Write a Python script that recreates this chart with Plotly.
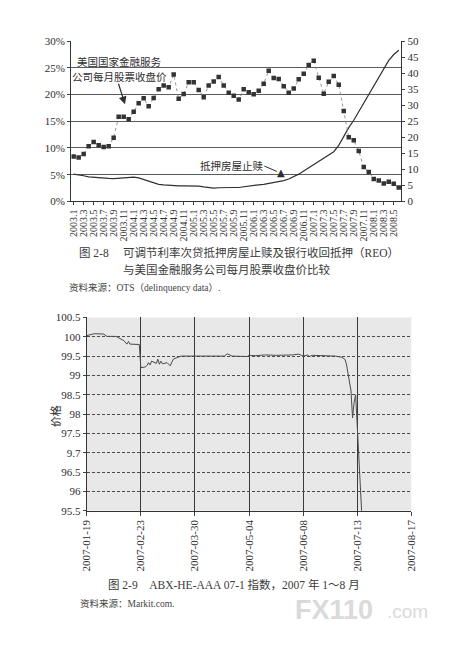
import plotly.graph_objects as go

# page is 465x650; the html body adds an 8px margin, so the figure itself is smaller
OFF = 8
W, H = 465 - OFF, 650 - 2 * OFF

# ---- chart 2-8 data (monthly, 2003.1 .. 2008.6) ----
months = [f"{y}.{m}" for y in range(2003, 2009) for m in range(1, 13)][:66]
month_ticks = months[::2]

# Countrywide monthly close (right axis, $)
cfc_close = [14.0, 13.7, 14.8, 17.2, 18.5, 17.5, 17.0, 17.2, 19.9, 26.4,
             26.4, 25.6, 28.0, 30.6, 32.2, 29.7, 32.3, 35.0, 36.2, 35.6,
             39.6, 32.0, 33.5, 37.2, 37.2, 34.8, 32.5, 36.2, 37.4, 38.8,
             36.2, 33.9, 33.0, 31.8, 35.0, 34.1, 33.4, 34.5, 36.7, 40.8,
             38.5, 38.2, 35.9, 33.9, 35.2, 38.1, 39.8, 42.6, 43.9, 38.6,
             33.6, 37.3, 39.1, 36.4, 28.2, 20.0, 19.1, 15.7, 10.7, 9.2,
             7.0, 6.5, 5.6, 6.1, 5.5, 4.3]

# ARM subprime foreclosure + REO rate (left axis, %)
foreclosure = [5.1, 5.0, 4.8, 4.6, 4.5, 4.4, 4.3, 4.3, 4.25, 4.3,
               4.35, 4.5, 4.55, 4.4, 4.1, 3.7, 3.4, 3.2, 3.1, 3.0,
               2.95, 2.9, 2.9, 2.9, 2.9, 2.85, 2.7, 2.6, 2.5, 2.55,
               2.6, 2.65, 2.6, 2.6, 2.75, 2.9, 3.0, 3.1, 3.2, 3.35,
               3.5, 3.7, 3.9, 4.2, 4.6, 5.1, 5.7, 6.3, 6.9, 7.5,
               8.0, 8.6, 9.3, 10.5, 12.2, 13.8, 15.2, 16.8, 18.5, 20.0,
               21.8, 23.4, 25.0, 26.4, 27.5, 28.3]

# ---- chart 2-9 data (ABX-HE-AAA 07-1) ----
abx_dates = ["2007-01-19", "2007-01-22", "2007-01-24", "2007-01-30", "2007-02-01",
             "2007-02-07", "2007-02-09", "2007-02-12", "2007-02-14", "2007-02-15",
             "2007-02-16", "2007-02-22", "2007-02-23", "2007-02-26", "2007-02-27",
             "2007-02-28", "2007-03-01", "2007-03-02", "2007-03-05", "2007-03-06",
             "2007-03-07", "2007-03-08", "2007-03-09", "2007-03-12", "2007-03-14",
             "2007-03-16", "2007-03-19", "2007-03-21", "2007-04-18", "2007-04-19",
             "2007-04-20", "2007-04-23", "2007-05-03", "2007-05-04", "2007-05-08",
             "2007-05-14", "2007-05-22", "2007-06-01", "2007-06-05", "2007-06-07",
             "2007-06-08", "2007-06-11", "2007-06-12", "2007-06-14", "2007-06-29",
             "2007-07-03", "2007-07-05", "2007-07-06", "2007-07-09", "2007-07-10",
             "2007-07-11", "2007-07-12", "2007-07-13", "2007-07-16", "2007-07-17"]
abx_price = [100.03, 100.07, 100.08, 100.07, 100.01,
             100.01, 99.96, 99.90, 99.81, 99.88,
             99.81, 99.80, 99.20, 99.22, 99.26,
             99.33, 99.27, 99.37, 99.31, 99.42,
             99.29, 99.37, 99.30, 99.33, 99.25,
             99.42, 99.47, 99.50, 99.50, 99.53,
             99.56, 99.50, 99.49, 99.52, 99.51,
             99.53, 99.52, 99.53, 99.55, 99.52,
             99.50, 99.53, 99.49, 99.52, 99.50,
             99.47, 99.42, 99.30, 98.60, 97.90,
             98.30, 98.50, 97.70, 95.40, 94.60]
abx_ticks = ["2007-01-19", "2007-02-23", "2007-03-30", "2007-05-04",
             "2007-06-08", "2007-07-13", "2007-08-17"]
price_ticks = [95.5, 96, 96.5, 97, 97.5, 98, 98.5, 99, 99.5, 100, 100.5]
price_labels = ["95.5", "96", "96.5", "9.7", "97.5", "98", "98.5", "99", "99.5", "100", "100.5"]


# page pixel -> paper fraction
def px(x):
    return (x - OFF) / W


def py(y):
    return 1 - (y - OFF) / H


SERIF = "Liberation Serif, Noto Sans CJK SC, serif"
INK = "#2e2e2e"

fig = go.Figure()

fig.add_trace(go.Scatter(x=months, y=foreclosure, mode="lines",
                         line=dict(color="#303030", width=1.2),
                         xaxis="x", yaxis="y"))
fig.add_trace(go.Scatter(x=months, y=cfc_close, mode="lines+markers",
                         line=dict(color="#777777", width=0.8, dash="dot"),
                         marker=dict(symbol="square", size=4.5, color="#333333"),
                         xaxis="x", yaxis="y2"))
fig.add_trace(go.Scatter(x=abx_dates, y=abx_price, mode="lines",
                         line=dict(color="#4a4a4a", width=1),
                         xaxis="x3", yaxis="y3"))

fig.update_layout(
    width=W, height=H,
    margin=dict(l=0, r=0, t=0, b=0),
    paper_bgcolor="white", plot_bgcolor="rgba(0,0,0,0)",
    showlegend=False,
    font=dict(family=SERIF, color=INK),
    xaxis=dict(domain=[px(66.7), px(405.7)], anchor="y", type="category",
               range=[-0.5, 65.5], tickmode="array", tickvals=month_ticks,
               tickangle=-90, tickfont=dict(size=10), ticks="outside", ticklen=3,
               tickcolor="#444", showline=True, linecolor="#333", showgrid=False),
    yaxis=dict(domain=[py(199), py(35.7)], anchor="x", range=[0, 30], dtick=5,
               ticksuffix="%", tickfont=dict(size=11), ticks="outside", ticklen=3,
               tickcolor="#444", showline=True, linecolor="#333",
               showgrid=True, gridcolor="#5c5c5c", gridwidth=1, zeroline=False),
    yaxis2=dict(overlaying="y", side="right", anchor="x", range=[0, 50], dtick=5,
                tickfont=dict(size=11), ticks="outside", ticklen=3, tickcolor="#444",
                showline=True, linecolor="#333", showgrid=False, zeroline=False),
    xaxis3=dict(domain=[px(82.7), px(416)], anchor="y3", type="date",
                range=["2007-01-19", "2007-08-17"], tickmode="array",
                tickvals=abx_ticks, ticktext=abx_ticks, tickangle=-90,
                tickfont=dict(size=11), ticks="outside", ticklen=4, tickcolor="#444",
                showline=True, linecolor="#333", showgrid=True,
                gridcolor="#3a3a3a", gridwidth=1, zeroline=False),
    yaxis3=dict(domain=[py(514.3), py(317.3)], anchor="x3", range=[95.5, 100.5],
                tickmode="array", tickvals=price_ticks, ticktext=price_labels,
                tickfont=dict(size=11), ticks="outside", ticklen=3, tickcolor="#444",
                showline=True, linecolor="#333", showgrid=True,
                gridcolor="#4a4a4a", griddash="3px,2px", gridwidth=1, zeroline=False),
)

# grey plot background for the ABX chart only
fig.add_shape(type="rect", xref="x3 domain", yref="y3 domain", x0=0, x1=1, y0=0, y1=1,
              fillcolor="#e8e8e8", line=dict(width=0), layer="below")


def label(text, x, y, font, xanchor="center", **kw):
    return dict(text=text, x=px(x), y=py(y), xref="paper", yref="paper",
                xanchor=xanchor, yanchor="middle", showarrow=False, font=font, **kw)


ann = []
cjk = dict(family="Noto Sans CJK SC, Liberation Serif", size=10.5, color=INK)
ann.append(label("美国国家金融服务", 116, 56, cjk))
ann.append(label("公司每月股票收盘价", 116, 71.7, cjk))
ann.append(dict(text="", x=px(122), y=py(100), ax=-7, ay=-22, xref="paper", yref="paper",
                showarrow=True, arrowhead=2, arrowsize=1.3, arrowwidth=1.2,
                arrowcolor=INK))
ann.append(label("抵押房屋止赎", 232, 162.7, cjk))
ann.append(dict(text="", x=px(278), y=py(168.5), ax=-14, ay=-6, xref="paper",
                yref="paper", showarrow=True, arrowhead=0, arrowwidth=1,
                arrowcolor=INK))
ann.append(label("▲", 282, 169.5, dict(family="DejaVu Sans", size=10, color=INK)))

cap = dict(family=SERIF, size=11.5, color="#3a3a3a")
src = dict(family=SERIF, size=9.5, color="#444")
ann.append(label("图 2-8", 73, 251.5, cap, xanchor="left"))
ann.append(label("可调节利率次贷抵押房屋止赎及银行收回抵押（REO）", 118, 251.5, cap, xanchor="left"))
ann.append(label("与美国金融服务公司每月股票收盘价比较", 118, 268.3, cap, xanchor="left"))
ann.append(label("资料来源：OTS（delinquency data）.", 62, 286.5, src, xanchor="left"))

ann.append(label("价格", 50, 418, dict(family=SERIF, size=11, color=INK), textangle=-90))
ann.append(label("图 2-9\u00a0\u00a0\u00a0\u00a0ABX-HE-AAA 07-1 指数，2007 年 1～8 月", 102, 590,
                 cap, xanchor="left"))
ann.append(label("资料来源：Markit.com.", 74, 609.3, src, xanchor="left"))

# watermark
ann.append(label("<b>FX110</b>", 295, 615, dict(family="Liberation Sans", size=27,
                                                 color="#dadada"), xanchor="left"))
ann.append(label(".com", 389, 617, dict(family="Liberation Sans", size=19,
                                         color="#dadada"), xanchor="left"))

fig.update_layout(annotations=ann)

fig.write_html("out.html")
